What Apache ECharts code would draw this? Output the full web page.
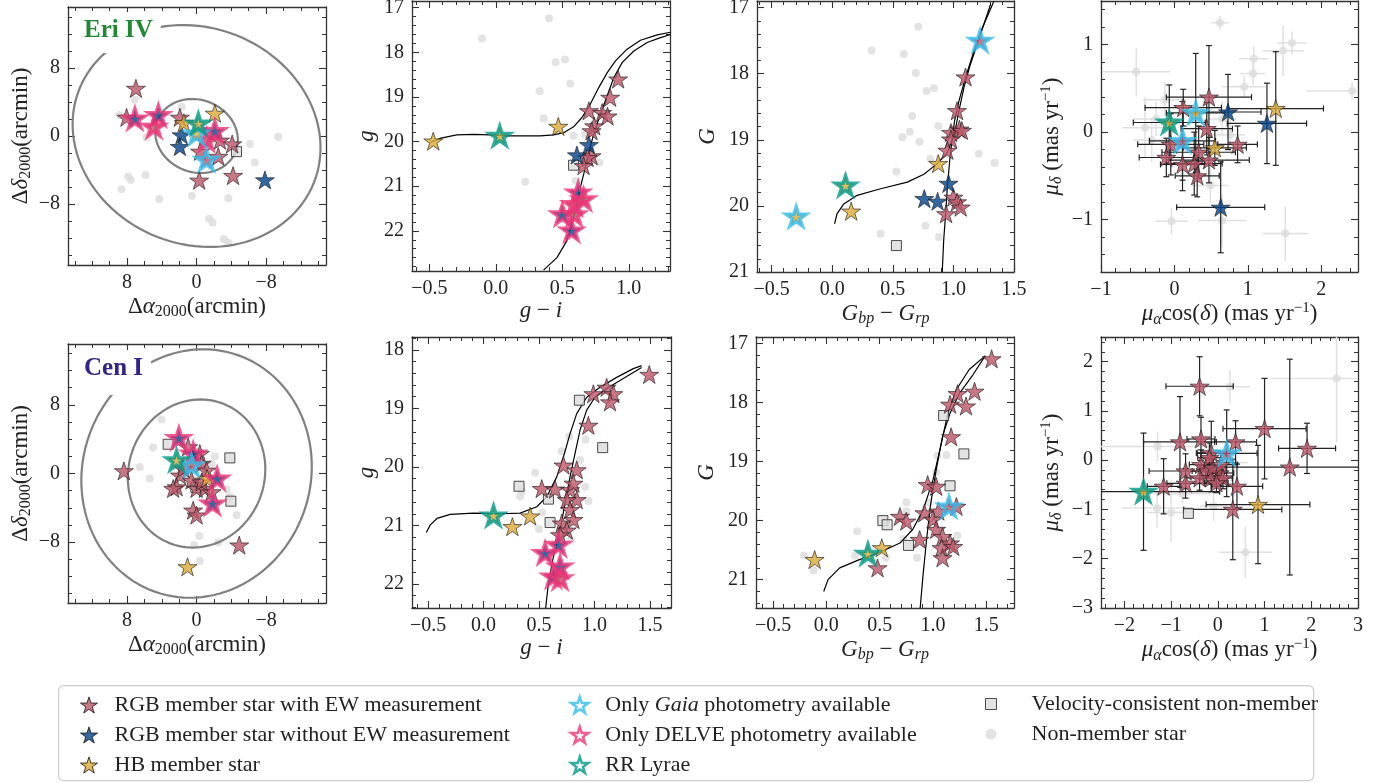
<!DOCTYPE html>
<html>
<head>
<meta charset="utf-8">
<script src="https://cdn.jsdelivr.net/npm/echarts@6/dist/echarts.min.js"></script>
<style>
html,body{margin:0;padding:0;background:#fff;}
#chart{width:1397px;height:783px;}
</style>
</head>
<body>
<div id="chart"></div>
<script>
// ---- data ----
// stars: [x, y, class, outline]   class E = RGB w/ EW, N = RGB w/o EW, H = HB
// pm stars: [x, y, xerr, yerr, class, outline]
var eriSkyStars = [
    [6.98,5.59,'E',''],[8.06,2.19,'E',''],[1.92,2.19,'E',''],[-4.1,-0.94,'E',''],[-2.5,-2.4,'E',''],
    [-0.4,-1.8,'E',''],[-0.3,-5.2,'E',''],[-4.2,-4.65,'E',''],[-2.7,-0.5,'E',''],
    [1.73,0.12,'N',''],[1.92,-1.25,'N',''],[-7.87,-5.16,'N',''],
    [-2.1,2.66,'H',''],[1.46,1.56,'H',''],
    [4.9,1.1,'E','delve'],[-1.15,-0.47,'E','delve'],[4.4,2.46,'N','delve'],[7.1,2.07,'N','delve'],[-2.1,0.6,'N','delve'],
    [-1.15,-2.8,'E','gaia'],[0,0.3,'H','gaia'],
    [-0.2,1.48,'H','rrl']
];
var eriSkySquares = [[-4.6,-1.84]];
var eriSkyDots = [[8.9,2.46],[7.1,4.3],[5.76,-0.16],[1.73,3.44],[-6.14,-0.94],[-9.4,-0.08],[-6.7,-3.1],
    [7.87,-4.77],[7.56,-5.16],[8.63,-6.25],[5.87,-4.57],[4.3,-7.4],[0.54,-7.03],[-3.65,-7.3],
    [-1.46,-9.73],[-1.84,-10.16],[-3.15,-12.1],[-3.65,-12.5]];
// ellipses: [semi-major, semi-minor, angle deg]
var eriEllipses = [[4.86,4.23,24.6],[14.58,12.68,24.6]];

var eriCmdStars = [
    [0.92,18.60,'E',''],[0.86,19.01,'E',''],[0.70,19.31,'E',''],[0.80,19.35,'E',''],[0.84,19.43,'E',''],
    [0.74,19.65,'E',''],[0.72,19.76,'E',''],[0.72,20.32,'E',''],[0.69,20.36,'E',''],[0.66,20.54,'E',''],
    [0.70,20.07,'N',''],[0.61,20.30,'N',''],
    [-0.47,19.99,'H',''],[0.47,19.66,'H',''],
    [0.62,21.14,'N','delve'],[0.66,21.29,'E','delve'],[0.59,21.40,'E','delve'],[0.50,21.63,'N','delve'],
    [0.59,21.63,'E','delve'],[0.57,21.99,'N','delve'],
    [0.03,19.87,'H','rrl']
];
var eriCmdSquares = [[0.585,20.53]];
var eriCmdDots = [[-0.105,17.69],[0.40,17.24],[0.45,18.22],[0.52,18.16],[0.56,18.70],[0.33,18.87],
    [0.36,19.48],[0.585,19.87],[0.67,19.84],[0.78,20.47],[0.22,20.9],[0.6,20.88]];
var eriCmdIsoHB = [[-0.495,20.02],[-0.42,19.93],[-0.294,19.85],[-0.168,19.84],[-0.043,19.85],[0.083,19.87],
    [0.209,19.87],[0.334,19.87],[0.435,19.85],[0.51,19.80],[0.585,19.67],[0.648,19.46],[0.711,19.16],
    [0.774,18.79],[0.837,18.46],[0.9,18.19],[0.987,17.93],[1.088,17.73],[1.214,17.61],[1.314,17.55]];
var eriCmdIsoRGB = [[0.359,22.88],[0.46,22.6],[0.535,22.22],[0.585,21.7],[0.623,21.18],[0.661,20.73],
    [0.698,20.25],[0.736,19.84],[0.786,19.39],[0.837,18.98],[0.887,18.57],[0.95,18.23],[1.038,17.97],
    [1.138,17.78],[1.239,17.67],[1.314,17.6]];

var eriGaiaStars = [
    [1.10,18.05,'E',''],[1.03,18.56,'E',''],[0.98,18.89,'E',''],[1.05,18.84,'E',''],[1.07,18.86,'E',''],
    [0.98,18.99,'E',''],[0.95,19.16,'E',''],[1.0,19.87,'E',''],[1.03,19.94,'E',''],[1.06,20.02,'E',''],
    [0.94,20.12,'E',''],
    [0.96,19.66,'N',''],[0.76,19.89,'N',''],[0.87,19.93,'N',''],
    [0.875,19.36,'H',''],[0.157,20.08,'H',''],
    [1.22,17.5,'E','gaia'],[-0.297,20.16,'H','gaia'],
    [0.11,19.69,'H','rrl']
];
var eriGaiaSquares = [[0.53,20.6]];
var eriGaiaDots = [[0.71,17.29],[0.325,17.65],[0.59,17.70],[0.69,17.99],[0.78,18.26],[0.84,18.22],
    [0.66,18.64],[0.875,18.79],[0.64,18.88],[0.58,18.96],[0.72,19.03],[0.81,19.29],[1.21,19.21],
    [1.34,19.35],[0.53,19.48],[0.77,20.3],[0.4,20.42],[0.88,20.47]];
var eriGaiaIsoHB = [[0.02,20.27],[0.04,20.12],[0.096,19.97],[0.206,19.84],[0.4,19.74],[0.62,19.64],
    [0.757,19.52],[0.867,19.36],[0.95,19.19],[0.99,19.01],[1.02,18.81],[1.046,18.56],[1.087,18.21],
    [1.14,17.86],[1.225,17.4],[1.307,16.95]];
var eriGaiaIsoRGB = [[0.908,21.0],[0.92,20.52],[0.936,20.12],[0.95,19.72],[0.97,19.31],[0.99,18.99],
    [1.01,18.71],[1.046,18.41],[1.1,18.06],[1.17,17.65],[1.24,17.3],[1.335,16.9]];

var eriPmStars = [
    [0.47,0.40,0.58,0.59,'E',''],[0.12,0.28,0.52,0.21,'E',''],[0.44,0.04,0.35,0.30,'E',''],
    [0.86,-0.14,0.27,0.21,'E',''],[-0.05,-0.14,0.45,0.35,'E',''],[-0.11,-0.29,0.37,0.22,'E',''],
    [0.11,-0.37,0.30,0.30,'E',''],[0.27,-0.36,0.38,0.36,'E',''],[0.33,-0.23,0.50,0.30,'E',''],
    [0.47,-0.32,0.55,0.26,'E',''],[0.31,-0.50,0.30,0.24,'E',''],
    [0.73,0.23,0.45,0.43,'N',''],[0.63,-0.86,0.60,0.52,'N',''],[1.26,0.10,0.54,0.46,'N',''],
    [1.38,0.27,0.65,0.65,'H',''],[0.55,-0.18,0.43,0.20,'H',''],
    [0.11,-0.10,0.45,0.45,'E','gaia'],[0.29,0.22,0.40,0.68,'H','gaia'],
    [-0.07,0.11,0.49,0.43,'H','rrl']
];
var eriPmDots = [[0.62,1.25,0.12,0.08],[1.6,1.02,0.2,0.13],[1.48,0.93,0.28,0.29],[1.08,0.84,0.2,0.14],
    [1.07,0.67,0.17,0.13],[0.95,0.52,0.3,0.12],[-0.52,0.69,0.46,0.27],[2.42,0.47,0.62,0.1],
    [-0.4,0.05,0.31,0.35],[-0.31,-0.09,0.25,0.25],[-0.13,0.37,0.3,0.2],[-0.25,0.15,0.3,0.2],
    [0.65,0.15,0.2,0.2],[0.76,-0.03,0.2,0.2],[0.49,-0.61,0.25,0.2],[0.65,-1.01,0.33,0.3],
    [-0.04,-1.02,0.22,0.15],[1.51,-1.16,0.31,0.31]];

var cenSkyStars = [
    [8.37,0.31,'E',''],[0.97,3.1,'E',''],[-0.38,2.33,'E',''],[1.92,-0.2,'E',''],[1.54,0.58,'E',''],
    [-0.58,1.17,'E',''],[-1.15,0.38,'E',''],[2.3,-1.56,'E',''],[0.58,-0.78,'E',''],[0,-1.75,'E',''],
    [-0.96,-1.75,'E',''],[-1.73,-2.14,'E',''],[0.39,-4.28,'E',''],[0,-4.85,'E',''],[-0.58,-0.98,'E',''],
    [-4.91,-8.35,'E',''],[2.69,-1.75,'E',''],
    [-1.22,-0.58,'H',''],[1.04,-10.88,'H',''],
    [2.04,4.15,'N','delve'],[0.39,2.33,'N','delve'],[-2.37,-0.58,'N','delve'],[-1.84,-3.5,'N','delve'],
    [0.58,0.97,'E','gaia'],
    [2.3,1.55,'H','rrl']
];
var cenSkySquares = [[3.27,3.41],[0.08,-1.63],[-3.83,1.82],[-3.95,-3.23]];
var cenSkyDots = [[4.03,6.29],[5.0,3.03],[6.53,0.77],[5.38,-0.58],[-2.1,2.02],[-1.73,1.17],
    [-3.45,-1.86],[-4.6,-4.86],[-0.31,-7.3],[0.27,-8.35],[-2.5,-8.04],[-0.38,-10.21],[-3.84,-2.72]];
var cenEllipses = [[8.7,7.84,106.6],[14.6,13.14,106.6]];

var cenCmdStars = [
    [1.494,18.42,'E',''],[1.11,18.64,'E',''],[0.99,18.75,'E',''],[1.17,18.75,'E',''],[1.14,18.89,'E',''],
    [0.945,19.29,'E',''],[0.72,19.97,'E',''],[0.84,20.05,'E',''],[0.525,20.37,'E',''],[0.645,20.38,'E',''],
    [0.78,20.39,'E',''],[0.81,20.28,'E',''],[0.84,20.56,'E',''],[0.75,20.56,'E',''],[0.78,20.73,'E',''],
    [0.81,20.9,'E',''],[0.705,20.96,'E',''],[0.75,21.08,'E',''],[0.69,21.16,'E',''],
    [0.26,21.02,'H',''],[0.42,20.84,'H',''],
    [0.675,21.33,'N','delve'],[0.555,21.47,'N','delve'],[0.69,21.7,'N','delve'],[0.63,21.87,'N','delve'],
    [0.69,21.9,'E','delve'],
    [0.09,20.83,'H','rrl']
];
var cenCmdSquares = [[0.864,18.86],[1.074,19.67],[0.32,20.33],[0.585,20.55],[0.6,20.95]];
var cenCmdDots = [[0.774,19.48],[0.92,19.53],[0.705,19.73],[0.87,19.88],[0.465,20.1],[0.345,20.42],
    [0.33,20.5],[0.915,20.34],[0.945,20.58],[0.5,21.06],[0.53,20.78],[0.79,21.25]];
var cenCmdIsoHB = [[-0.516,21.12],[-0.48,20.99],[-0.42,20.88],[-0.3,20.81],[-0.09,20.79],[0.15,20.8],
    [0.33,20.79],[0.48,20.68],[0.57,20.51],[0.66,20.17],[0.72,19.83],[0.78,19.43],[0.84,19.09],
    [0.93,18.81],[1.05,18.64],[1.2,18.47],[1.35,18.32],[1.425,18.27]];
var cenCmdIsoRGB = [[0.56,22.41],[0.585,21.98],[0.63,21.53],[0.69,21.08],[0.735,20.62],[0.78,20.17],
    [0.825,19.77],[0.87,19.37],[0.93,19.03],[1.005,18.81],[1.11,18.66],[1.26,18.49],[1.425,18.3]];

var cenGaiaStars = [
    [1.55,17.26,'E',''],[1.16,18.03,'E',''],[1.23,17.85,'E',''],[1.39,17.81,'E',''],[1.31,18.06,'E',''],
    [1.17,18.58,'E',''],[0.95,19.39,'E',''],[1.03,19.42,'E',''],[0.92,19.87,'E',''],[1.05,19.84,'E',''],
    [1.0,19.98,'E',''],[1.22,19.76,'E',''],[0.69,19.93,'E',''],[0.75,20.01,'E',''],[0.875,20.32,'E',''],
    [1.03,20.15,'E',''],[1.09,20.27,'E',''],[1.16,20.38,'E',''],[1.08,20.46,'E',''],[1.19,20.44,'E',''],
    [1.09,20.63,'E',''],[0.48,20.8,'E',''],
    [-0.11,20.66,'H',''],[0.52,20.46,'H',''],
    [1.15,19.76,'E','gaia'],
    [0.39,20.56,'H','rrl']
];
var cenGaiaSquares = [[1.1,18.22],[1.29,18.87],[1.16,19.41],[0.53,20.0],[0.57,20.07],[0.77,20.42]];
var cenGaiaDots = [[-0.21,20.59],[-0.12,20.84],[0.29,20.18],[0.27,20.59],[0.56,20.63],[0.75,19.69],
    [0.75,19.84],[0.72,20.31],[0.85,20.63],[1.04,18.9],[1.125,18.89],[1.03,19.18],[1.0,19.42],
    [0.96,19.69],[1.23,20.25]];
var cenGaiaIsoHB = [[-0.025,21.2],[0.016,21.0],[0.125,20.8],[0.31,20.66],[0.5,20.54],[0.69,20.38],
    [0.81,20.15],[0.91,19.81],[1.0,19.31],[1.08,18.68],[1.14,18.18],[1.22,17.78],[1.34,17.44],[1.49,17.21]];
var cenGaiaIsoRGB = [[0.88,21.48],[0.906,20.94],[0.94,20.32],[0.975,19.76],[1.03,19.14],[1.09,18.57],
    [1.16,18.18],[1.25,17.84],[1.375,17.53],[1.49,17.21]];

var cenPmStars = [
    [-0.39,1.50,0.72,0.60,'E',''],[1.00,0.64,0.89,1.02,'E',''],[1.91,0.24,0.61,0.51,'E',''],
    [1.54,-0.14,1.48,2.19,'E',''],[-0.81,0.37,0.78,0.92,'E',''],[-0.36,0.43,0.30,0.44,'E',''],
    [0.38,0.37,0.45,0.43,'E',''],[0.32,-1.00,1.05,1.02,'E',''],[0.41,-0.53,0.55,0.45,'E',''],
    [-1.16,-0.53,0.35,0.56,'E',''],[-0.69,-0.22,0.78,0.35,'E',''],[-0.69,-0.47,0.40,0.30,'E',''],
    [-0.14,0.15,0.30,0.64,'E',''],[-0.36,-0.09,0.25,0.30,'E',''],[-0.25,-0.22,0.30,0.25,'E',''],
    [-0.14,-0.36,0.25,0.28,'E',''],[0.04,-0.26,0.30,0.25,'E',''],[-0.11,-0.15,0.20,0.22,'E',''],
    [-0.39,-0.36,0.30,0.25,'E',''],[-0.18,0.05,0.25,0.30,'E',''],[0.07,-0.09,0.35,0.25,'E',''],
    [0.11,-0.36,0.20,0.22,'E',''],[-0.03,-0.46,0.25,0.20,'E',''],
    [0.86,-0.90,1.11,1.20,'H',''],
    [0.19,0.14,0.65,0.88,'E','gaia'],
    [-1.59,-0.64,1.63,1.19,'H','rrl']
];
var cenPmSquares = [[-0.63,-1.08]];
var cenPmDots = [[2.54,1.66,1.4,1.3],[0.26,1.49,0.43,0.34],[-1.29,0.28,1.25,0.3],[-1.30,-0.97,0.75,0.4],
    [-1.0,-1.06,0.5,0.6],[-0.09,-0.93,0.3,0.3],[0.59,-1.87,0.57,0.52],[-0.76,-0.68,0.6,0.2],[0.34,-0.05,0.3,0.3]];

// tick values
var skyTicks = [-8,0,8];
var eriGTicks = [17,18,19,20,21,22];
var gaiaGTicks = [17,18,19,20,21];
var cenGTicks = [18,19,20,21,22];
var colorTicks = [-0.5,0,0.5,1.0,1.5];
var eriPmX = [-1,0,1,2], eriPmY = [-1,0,1];
var cenPmX = [-2,-1,0,1,2,3], cenPmY = [-3,-2,-1,0,1,2];

// ---- styling ----
var FONT = 'Liberation Serif';
var AX = '#333333';
var STAR = 'path://M100,0 L122.45,69.1 L195.1,69.1 L136.33,111.8 L158.8,180.9 L100,138.2 L41.2,180.9 L63.67,111.8 L4.9,69.1 L77.55,69.1 Z';
var FILL = {E:'#bb5566', N:'#004488', H:'#ddaa33'};
var EDGE = {gaia:'#33bbee', delve:'#ee3377', rrl:'#009988'};
var L_E='RGB member star with EW measurement', L_N='RGB member star without EW measurement', L_H='HB member star';
var L_G='Only Gaia photometry available', L_D='Only DELVE photometry available', L_R='RR Lyrae';
var L_V='Velocity-consistent non-member', L_O='Non-member star';
var TYPE_NAME = {E:L_E, N:L_N, H:L_H};
var EDGE_NAME = {gaia:L_G, delve:L_D, rrl:L_R};

var NAME_STYLE = {
    fontFamily: FONT, fontSize: 23, color: '#222',
    rich: {
        i: {fontFamily: FONT, fontSize: 23, fontStyle: 'italic', color: '#222'},
        s: {fontFamily: FONT, fontSize: 16, color: '#222', padding: [11,0,0,0]},
        si: {fontFamily: FONT, fontSize: 16, fontStyle: 'italic', color: '#222', padding: [11,0,0,0]},
        sup: {fontFamily: FONT, fontSize: 15, color: '#222', padding: [0,0,11,0]}
    }
};

function fmt(dec) {
    return function (v) { return (v < 0 ? '\u2212' : '') + Math.abs(v).toFixed(dec); };
}
function minors(r, step) {
    var lo = Math.min(r[0], r[1]), hi = Math.max(r[0], r[1]), out = [];
    for (var k = Math.ceil(lo / step - 1e-6); k * step <= hi + 1e-6; k++) out.push(+(k * step).toFixed(4));
    return out;
}

var grids = [], xAxes = [], yAxes = [], series = [];

function axisSet(dim, g, r, maj, step, inv, dec, name, gap) {
    var pos = dim === 'x' ? ['bottom', 'top'] : ['left', 'right'];
    var mnr = minors(r, step);
    var list = [];
    pos.forEach(function (p, k) {
        list.push({
            gridIndex: g, type: 'value', min: r[0], max: r[1], inverse: !!inv, position: p,
            splitLine: {show: false},
            axisLine: {show: true, onZero: false, lineStyle: {color: AX, width: 1.3}},
            axisTick: {show: true, inside: true, length: 7, customValues: maj, lineStyle: {color: AX, width: 1.1}},
            axisLabel: k === 0 ? {show: true, customValues: maj, formatter: fmt(dec), margin: 8,
                color: '#222', fontFamily: FONT, fontSize: 20} : {show: false},
            name: k === 0 ? name : '', nameLocation: 'middle', nameGap: gap, nameTextStyle: NAME_STYLE
        });
        list.push({
            gridIndex: g, type: 'value', min: r[0], max: r[1], inverse: !!inv, position: p,
            splitLine: {show: false}, axisLine: {show: false, onZero: false},
            axisTick: {show: true, inside: true, length: 4, customValues: mnr, lineStyle: {color: AX, width: 1}},
            axisLabel: {show: false}
        });
    });
    return list;
}

function panel(box, xr, yr, xMaj, xStep, yMaj, yStep, o) {
    var g = grids.length;
    grids.push({left: box[0], top: box[1], width: box[2], height: box[3], containLabel: false, outerBoundsMode: 'none'});
    var xi = xAxes.length, yi = yAxes.length;
    axisSet('x', g, xr, xMaj, xStep, o.xInv, o.xDec, o.xName, o.xGap).forEach(function (a) { xAxes.push(a); });
    axisSet('y', g, yr, yMaj, yStep, o.yInv, o.yDec, o.yName, o.yGap).forEach(function (a) { yAxes.push(a); });
    return {xAxisIndex: xi, yAxisIndex: yi};
}

function put(ax, s) { s.xAxisIndex = ax.xAxisIndex; s.yAxisIndex = ax.yAxisIndex; series.push(s); }

function addDots(ax, rows) {
    put(ax, {type: 'scatter', name: L_O, data: rows.map(function (r) { return [r[0], r[1]]; }),
        symbol: 'circle', symbolSize: 8, itemStyle: {color: '#dcdcdc'}, z: 2, silent: true});
}
function addSquares(ax, rows) {
    put(ax, {type: 'scatter', name: L_V, data: rows, symbol: 'rect', symbolSize: 10,
        itemStyle: {color: '#dcdcdc', borderColor: '#222', borderWidth: 1}, z: 4, silent: true});
}
function addLine(ax, pts, color, w, z) {
    put(ax, {type: 'line', name: 'line', data: pts, showSymbol: false, symbol: 'none',
        lineStyle: {color: color, width: w}, z: z, silent: true});
}
function addEllipses(ax, list) {
    list.forEach(function (e) {
        var th = e[2] * Math.PI / 180, pts = [];
        for (var t = 0; t <= 360; t += 3) {
            var a = t * Math.PI / 180, ex = e[0] * Math.cos(a), ey = e[1] * Math.sin(a);
            pts.push([ex * Math.cos(th) - ey * Math.sin(th), ex * Math.sin(th) + ey * Math.cos(th)]);
        }
        addLine(ax, pts, '#808080', 2.2, 3);
    });
}
function addErr(ax, rows, color, cap, w, z) {
    put(ax, {type: 'custom', name: 'err', clip: true, silent: true, z: z,
        data: rows.map(function (r) { return [r[0], r[1], r[2], r[3]]; }),
        encode: {x: 0, y: 1},
        renderItem: function (params, api) {
            var x = api.value(0), y = api.value(1), ex = api.value(2), ey = api.value(3);
            var a = api.coord([x - ex, y]), b = api.coord([x + ex, y]);
            var c = api.coord([x, y - ey]), d = api.coord([x, y + ey]);
            var st = {stroke: color, lineWidth: w};
            var ch = [
                {type: 'line', shape: {x1: a[0], y1: a[1], x2: b[0], y2: b[1]}, style: st},
                {type: 'line', shape: {x1: c[0], y1: c[1], x2: d[0], y2: d[1]}, style: st}
            ];
            if (cap) {
                [a, b].forEach(function (p) { ch.push({type: 'line', shape: {x1: p[0], y1: p[1] - cap, x2: p[0], y2: p[1] + cap}, style: st}); });
                [c, d].forEach(function (p) { ch.push({type: 'line', shape: {x1: p[0] - cap, y1: p[1], x2: p[0] + cap, y2: p[1]}, style: st}); });
            }
            return {type: 'group', children: ch};
        }
    });
}
function addStars(ax, rows, off) {
    ['E', 'N', 'H'].forEach(function (t) {
        var d = rows.filter(function (r) { return r[off] === t && !r[off + 1]; }).map(function (r) { return [r[0], r[1]]; });
        put(ax, {type: 'scatter', name: TYPE_NAME[t], data: d, symbol: STAR, symbolSize: 19, symbolKeepAspect: true,
            itemStyle: {color: FILL[t], borderColor: '#1a1a1a', borderWidth: 0.8}, z: 5, silent: true});
    });
    ['delve', 'gaia', 'rrl'].forEach(function (e) {
        var d = rows.filter(function (r) { return r[off + 1] === e; }).map(function (r) {
            return {value: [r[0], r[1]], itemStyle: {color: FILL[r[off]]}};
        });
        put(ax, {type: 'scatter', name: EDGE_NAME[e], data: d, symbol: STAR, symbolSize: 20, symbolKeepAspect: true,
            itemStyle: {borderColor: EDGE[e], borderWidth: 3.5}, z: 6, silent: true});
    });
}

var skyX = 'Δ{i|α}{s|2000}(arcmin)', skyY = 'Δ{i|δ}{s|2000}(arcmin)';
var gX = '{i|g} − {i|i}', gY = '{i|g}';
var GX = '{i|G}{si|bp} − {i|G}{si|rp}', GY = '{i|G}';
var pmX = '{i|μ}{si|α}cos({i|δ}) (mas yr{sup|−1})', pmY = '{i|μ}{si|δ} (mas yr{sup|−1})';

// ---- Eri IV row ----
var a1 = panel([68,7,258,258], [-14.9,14.8], [-15.15,15.15], skyTicks, 2, skyTicks, 2,
    {xInv: true, xDec: 0, yDec: 0, xName: skyX, yName: skyY, xGap: 28, yGap: 34});
addDots(a1, eriSkyDots); addEllipses(a1, eriEllipses); addSquares(a1, eriSkySquares); addStars(a1, eriSkyStars, 2);

var a2 = panel([412,1,258,270], [-0.63,1.31], [16.85,22.9], colorTicks.slice(0,4), 0.1, eriGTicks, 0.2,
    {yInv: true, xDec: 1, yDec: 0, xName: gX, yName: gY, xGap: 28, yGap: 34});
addDots(a2, eriCmdDots); addLine(a2, eriCmdIsoHB, '#000', 1.2, 3); addLine(a2, eriCmdIsoRGB, '#000', 1.2, 3);
addSquares(a2, eriCmdSquares); addStars(a2, eriCmdStars, 2);

var a3 = panel([757,1,257,271], [-0.62,1.5], [16.9,21.0], colorTicks, 0.1, gaiaGTicks, 0.2,
    {yInv: true, xDec: 1, yDec: 0, xName: GX, yName: GY, xGap: 28, yGap: 38});
addDots(a3, eriGaiaDots); addLine(a3, eriGaiaIsoHB, '#000', 1.2, 3); addLine(a3, eriGaiaIsoRGB, '#000', 1.2, 3);
addSquares(a3, eriGaiaSquares); addStars(a3, eriGaiaStars, 2);

var a4 = panel([1101,1,257,271], [-1,2.5], [-1.6,1.5], eriPmX, 0.2, eriPmY, 0.2,
    {xDec: 0, yDec: 0, xName: pmX, yName: pmY, xGap: 28, yGap: 36});
addErr(a4, eriPmDots, '#e0e0e0', 0, 1.5, 1); addDots(a4, eriPmDots);
addErr(a4, eriPmStars, '#222', 3, 1.2, 3); addStars(a4, eriPmStars, 4);

// ---- Cen I row ----
var a5 = panel([68,344,258,259], [-14.9,14.8], [-15.1,15.1], skyTicks, 2, skyTicks, 2,
    {xInv: true, xDec: 0, yDec: 0, xName: skyX, yName: skyY, xGap: 28, yGap: 34});
addDots(a5, cenSkyDots); addEllipses(a5, cenEllipses); addSquares(a5, cenSkySquares); addStars(a5, cenSkyStars, 2);

var a6 = panel([412,337,259,271], [-0.645,1.69], [17.78,22.41], colorTicks, 0.1, cenGTicks, 0.2,
    {yInv: true, xDec: 1, yDec: 0, xName: gX, yName: gY, xGap: 28, yGap: 34});
addDots(a6, cenCmdDots); addLine(a6, cenCmdIsoHB, '#000', 1.2, 3); addLine(a6, cenCmdIsoRGB, '#000', 1.2, 3);
addSquares(a6, cenCmdSquares); addStars(a6, cenCmdStars, 2);

var a7 = panel([756,337,258,271], [-0.66,1.76], [16.89,21.48], colorTicks, 0.1, gaiaGTicks, 0.2,
    {yInv: true, xDec: 1, yDec: 0, xName: GX, yName: GY, xGap: 28, yGap: 38});
addDots(a7, cenGaiaDots); addLine(a7, cenGaiaIsoHB, '#000', 1.2, 3); addLine(a7, cenGaiaIsoRGB, '#000', 1.2, 3);
addSquares(a7, cenGaiaSquares); addStars(a7, cenGaiaStars, 2);

var a8 = panel([1101,337,257,271], [-2.5,3], [-3,2.5], cenPmX, 0.2, cenPmY, 0.2,
    {xDec: 0, yDec: 0, xName: pmX, yName: pmY, xGap: 28, yGap: 36});
addErr(a8, cenPmDots, '#e0e0e0', 0, 1.5, 1); addDots(a8, cenPmDots);
addErr(a8, cenPmStars, '#222', 3, 1.2, 3); addSquares(a8, cenPmSquares); addStars(a8, cenPmStars, 4);

// ---- legend ----
function starIcon(fill, edge, w) { return {icon: STAR, itemStyle: {color: fill, borderColor: edge, borderWidth: w}}; }
var legText = {fontFamily: FONT, fontSize: 22, color: '#222',
    rich: {it: {fontFamily: FONT, fontSize: 22, fontStyle: 'italic', color: '#222'}}};
var legends = [
    {left: 80, top: 694, itemWidth: 17, itemHeight: 17, itemGap: 8, pad: 12,
        data: [Object.assign({name: L_E}, starIcon(FILL.E, '#111', 1)), Object.assign({name: L_N}, starIcon(FILL.N, '#111', 1)),
            Object.assign({name: L_H}, starIcon(FILL.H, '#111', 1))]},
    {left: 570, top: 694, itemWidth: 17, itemHeight: 17, itemGap: 8, pad: 12,
        data: [Object.assign({name: L_G}, starIcon('#fff', EDGE.gaia, 2.5)), Object.assign({name: L_D}, starIcon('#fff', EDGE.delve, 2.5)),
            Object.assign({name: L_R}, starIcon('#fff', EDGE.rrl, 2.5))]},
    {left: 985, top: 693, itemWidth: 11, itemHeight: 11, itemGap: 8, pad: 30,
        data: [{name: L_V, icon: 'rect', itemStyle: {color: '#dcdcdc', borderColor: '#222', borderWidth: 1}},
            {name: L_O, icon: 'circle', itemStyle: {color: '#dcdcdc'}}]}
].map(function (l) {
    var p = l.pad; delete l.pad;
    return Object.assign(l, {orient: 'vertical', height: 110, width: 420, padding: 0, selectedMode: false,
        textStyle: Object.assign({}, legText, {padding: [0,0,0,p]}),
        formatter: function (n) { return n === L_G ? 'Only {it|Gaia} photometry available' : n; }});
});

var chart = echarts.init(document.getElementById('chart'));
chart.setOption({
    animation: false,
    backgroundColor: '#fff',
    title: [
        {text: 'Eri IV', left: 76, top: 12, padding: [6,8,10,8], backgroundColor: '#fff',
            textStyle: {fontFamily: FONT, fontWeight: 'bold', fontSize: 25, color: '#228833'}},
        {text: 'Cen I', left: 76, top: 350, padding: [6,8,14,8], backgroundColor: '#fff',
            textStyle: {fontFamily: FONT, fontWeight: 'bold', fontSize: 25, color: '#332288'}}
    ],
    graphic: [{type: 'rect', left: 58, top: 685, z: 0, silent: true,
        shape: {width: 1255, height: 95, r: 5}, style: {fill: '#fff', stroke: '#cccccc', lineWidth: 1.2}}],
    legend: legends,
    grid: grids,
    xAxis: xAxes,
    yAxis: yAxes,
    series: series
});
</script>
</body>
</html>
